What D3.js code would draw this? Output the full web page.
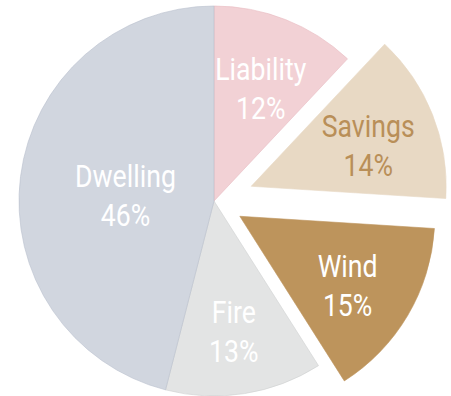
<!DOCTYPE html>
<html>
<head>
<meta charset="utf-8">
<script src="https://cdn.jsdelivr.net/npm/d3@7"></script>
<style>
  html, body { margin: 0; padding: 0; background: #fff; }
  svg { display: block; }
</style>
</head>
<body>
<div id="chart"></div>
<script>
// slices, clockwise from 12 o'clock
var categories = ["Liability", "Savings", "Wind", "Fire", "Dwelling"];
var shares = [12, 14, 15, 13, 46];
var labels = ["12%", "14%", "15%", "13%", "46%"];

var width = 451, height = 396;
var cx = 214, cy = 201, radius = 195;

var color = d3.scaleOrdinal()
  .domain(categories)
  .range(["#f2d1d5", "#e8d9c4", "#bd945c", "#e3e4e4", "#d1d6df"]);

var edge = d3.scaleOrdinal()
  .domain(categories)
  .range(["#e8b9bf", "#e8d9c4", "#bd945c", "#cfd0d0", "#b9c0cd"]);

var textColor = d3.scaleOrdinal()
  .domain(categories)
  .range(["#ffffff", "#b98f58", "#ffffff", "#ffffff", "#ffffff"]);

// pulled-out slices
var explode = { "Savings": 40, "Wind": 30 };

var data = categories.map(function(c, i) {
  return { name: c, value: shares[i], label: labels[i] };
});

var svg = d3.select("#chart")
  .append("svg")
  .attr("width", width)
  .attr("height", height);

var pie = d3.pie()
  .sort(null)
  .value(function(d) { return d.value; });

var arc = d3.arc()
  .innerRadius(0)
  .outerRadius(radius);

var arcs = pie(data);

function offset(d) {
  var k = explode[d.data.name] || 0;
  var a = (d.startAngle + d.endAngle) / 2;
  return [k * Math.sin(a), -k * Math.cos(a)];
}

// label at the area centroid of the sector
function labelPos(d) {
  var t = d.endAngle - d.startAngle;
  var r = 4 * radius * Math.sin(t / 2) / (3 * t);
  var a = (d.startAngle + d.endAngle) / 2;
  return [r * Math.sin(a), -r * Math.cos(a)];
}

var g = svg.append("g")
  .attr("transform", "translate(" + cx + "," + cy + ")");

var slice = g.selectAll("g.slice")
  .data(arcs)
  .enter()
  .append("g")
    .attr("class", "slice")
    .attr("transform", function(d) {
      var o = offset(d);
      return "translate(" + o[0] + "," + o[1] + ")";
    });

slice.append("path")
  .attr("d", arc)
  .style("fill", function(d) { return color(d.data.name); })
  .style("stroke", function(d) { return edge(d.data.name); })
  .style("stroke-width", 0.6);

// condensed look: squeeze the text horizontally
var txt = slice.append("text")
  .attr("text-anchor", "middle")
  .attr("transform", function(d) {
    var p = labelPos(d);
    return "translate(" + p[0] + "," + (p[1] + 5) + ") scale(0.86,1)";
  })
  .style("font-family", "Roboto, 'Noto Sans', sans-serif")
  .style("font-size", "31px")
  .style("fill", function(d) { return textColor(d.data.name); });

txt.append("tspan")
  .attr("x", 0)
  .attr("y", -8)
  .text(function(d) { return d.data.name; });

txt.append("tspan")
  .attr("x", 0)
  .attr("y", 31)
  .text(function(d) { return d.data.label; });
</script>
</body>
</html>
